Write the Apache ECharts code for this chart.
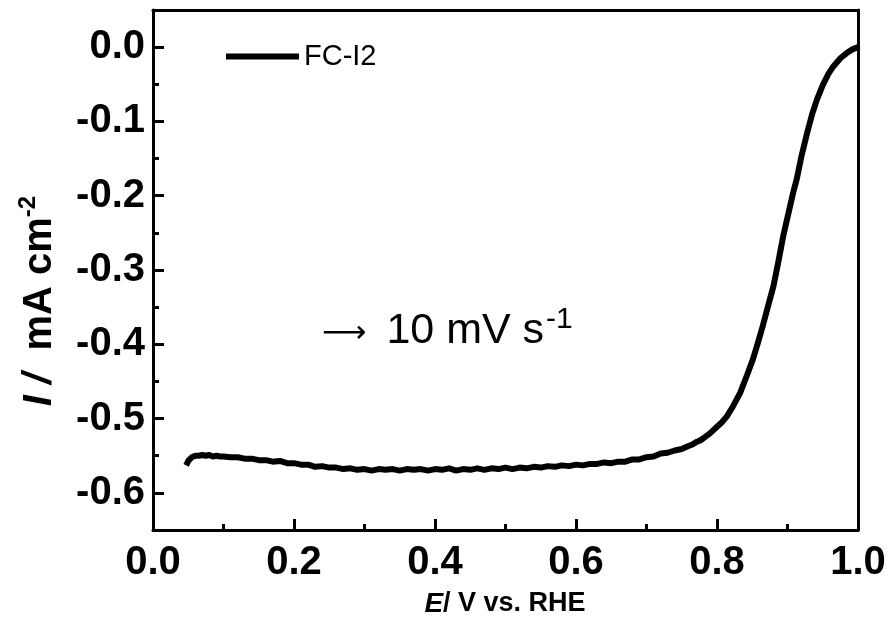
<!DOCTYPE html>
<html>
<head>
<meta charset="utf-8">
<script src="https://cdn.jsdelivr.net/npm/echarts@6/dist/echarts.min.js"></script>
<style>html,body{margin:0;padding:0;background:#fff}#c{width:891px;height:617px}</style>
</head>
<body>
<div id="c"></div>
<script>
// Potential E (V vs. RHE)
var potential = [
  0.047, 0.050, 0.055, 0.060, 0.065, 0.070, 0.075, 0.080, 0.085, 0.090, 0.095, 0.100,
  0.110, 0.120, 0.130, 0.140, 0.150, 0.160, 0.170, 0.180, 0.190, 0.200,
  0.210, 0.220, 0.230, 0.240, 0.250, 0.260, 0.270, 0.280, 0.290, 0.300,
  0.310, 0.320, 0.330, 0.340, 0.350, 0.360, 0.370, 0.380, 0.390, 0.400,
  0.410, 0.420, 0.430, 0.440, 0.450, 0.460, 0.470, 0.480, 0.490, 0.500,
  0.510, 0.520, 0.530, 0.540, 0.550, 0.560, 0.570, 0.580, 0.590, 0.600,
  0.610, 0.620, 0.630, 0.640, 0.650, 0.660, 0.670, 0.680, 0.690, 0.700,
  0.710, 0.720, 0.730, 0.740, 0.750, 0.757, 0.765, 0.770, 0.775, 0.780,
  0.790, 0.800, 0.807, 0.814, 0.823, 0.833, 0.842, 0.851, 0.858, 0.865,
  0.872, 0.880, 0.887, 0.894, 0.901, 0.908, 0.913, 0.920, 0.928, 0.935,
  0.942, 0.950, 0.958, 0.965, 0.975, 0.984, 0.992, 1.000
];
// Current density I (mA cm^-2), FC-I2
var currentFC_I2 = [
  -0.563, -0.557, -0.552, -0.550, -0.550, -0.549, -0.550, -0.549, -0.551, -0.550, -0.551, -0.551,
  -0.552, -0.552, -0.554, -0.554, -0.556, -0.556, -0.558, -0.557, -0.560, -0.560,
  -0.562, -0.562, -0.565, -0.564, -0.566, -0.566, -0.568, -0.567, -0.569, -0.568,
  -0.570, -0.568, -0.569, -0.568, -0.570, -0.568, -0.569, -0.568, -0.570, -0.568,
  -0.569, -0.567, -0.570, -0.568, -0.569, -0.567, -0.569, -0.567, -0.568, -0.566,
  -0.568, -0.566, -0.567, -0.565, -0.566, -0.564, -0.565, -0.563, -0.564, -0.562,
  -0.563, -0.561, -0.561, -0.559, -0.560, -0.558, -0.558, -0.555, -0.555, -0.552,
  -0.551, -0.547, -0.546, -0.543, -0.541, -0.538, -0.535, -0.532, -0.530, -0.527,
  -0.520, -0.511, -0.505, -0.497, -0.483, -0.465, -0.443, -0.420, -0.398, -0.375,
  -0.350, -0.322, -0.289, -0.254, -0.225, -0.196, -0.178, -0.146, -0.115, -0.090,
  -0.070, -0.051, -0.036, -0.026, -0.015, -0.008, -0.003, 0.000
];
var seriesName = 'FC-I2';
var xTicks = [0.0, 0.2, 0.4, 0.6, 0.8, 1.0];
var yTicks = [-0.6, -0.5, -0.4, -0.3, -0.2, -0.1, 0.0];
var yMinorTicks = [-0.55, -0.45, -0.35, -0.25, -0.15, -0.05];
var yEdgeTicks = [-0.6, -0.55, -0.5, -0.45, -0.4, -0.35, -0.3, -0.25, -0.2, -0.15, -0.1, -0.05, 0.0];

var FONT = '"Liberation Sans", Arial, Helvetica, sans-serif';
var pts = potential.map(function (e, i) { return [e, currentFC_I2[i]]; });

var chart = echarts.init(document.getElementById('c'), null, { renderer: 'canvas' });
chart.setOption({
  animation: false,
  backgroundColor: '#ffffff',
  grid: { left: 153, right: 33, top: 10, bottom: 87, containLabel: false },
  legend: {
    left: 226, top: 42, padding: 0,
    icon: 'rect', itemWidth: 73, itemHeight: 6,
    textStyle: { fontFamily: FONT, fontSize: 29, color: '#000' },
    data: [seriesName]
  },
  xAxis: [{
    type: 'value', min: 0, max: 1.0, interval: 0.2, position: 'bottom',
    axisLine: { show: true, onZero: false, lineStyle: { color: '#000', width: 3 } },
    axisTick: { show: true, inside: true, length: 11, lineStyle: { color: '#000', width: 3 } },
    minorTick: { show: true, splitNumber: 2, length: 6, lineStyle: { color: '#000', width: 3 } },
    axisLabel: { show: true, margin: 13, fontFamily: FONT, fontWeight: 'bold', fontSize: 40, color: '#000',
      customValues: xTicks, formatter: function (v) { return v.toFixed(1); } },
    splitLine: { show: false }, minorSplitLine: { show: false }
  }, {
    type: 'value', min: 0, max: 1.0, interval: 0.1, position: 'top',
    axisLine: { show: true, onZero: false, lineStyle: { color: '#000', width: 3 } },
    axisTick: { show: true, inside: true, length: 2, lineStyle: { color: '#000', width: 2 } },
    axisLabel: { show: false }, splitLine: { show: false }
  }],
  yAxis: [{
    type: 'value', min: -0.65, max: 0.05, position: 'left',
    axisLine: { show: true, onZero: false, lineStyle: { color: '#000', width: 3 } },
    axisTick: { show: true, inside: true, length: 11, customValues: yTicks, lineStyle: { color: '#000', width: 3 } },
    axisLabel: { show: true, margin: 8, fontFamily: FONT, fontWeight: 'bold', fontSize: 40, color: '#000',
      customValues: yTicks, formatter: function (v) { return v.toFixed(1); } },
    splitLine: { show: false }
  }, {
    type: 'value', min: -0.65, max: 0.05, position: 'left', offset: 0,
    axisLine: { show: false },
    axisTick: { show: true, inside: true, length: 6, customValues: yMinorTicks, lineStyle: { color: '#000', width: 3 } },
    axisLabel: { show: false }, splitLine: { show: false }
  }, {
    type: 'value', min: -0.65, max: 0.05, position: 'right',
    axisLine: { show: true, onZero: false, lineStyle: { color: '#000', width: 3 } },
    axisTick: { show: true, inside: false, length: 2, customValues: yEdgeTicks, lineStyle: { color: '#000', width: 2 } },
    axisLabel: { show: false }, splitLine: { show: false }
  }],
  series: [{
    name: seriesName, type: 'line', xAxisIndex: 0, yAxisIndex: 0,
    data: pts, showSymbol: false, symbol: 'none', smooth: false,
    color: '#000',
    lineStyle: { color: '#000', width: 6, join: 'round' }
  }],
  graphic: [
    {
      type: 'text', left: 322, top: 305,
      style: {
        text: '{r|⟶}{a| 10 mV s}{s|-1}',
        rich: {
          r: { fontFamily: '"DejaVu Sans", sans-serif', fontSize: 31, color: '#000', lineHeight: 48, verticalAlign: 'bottom', padding: [0, 8, 4, 0] },
          a: { fontFamily: FONT, fontSize: 43, color: '#000', lineHeight: 48, verticalAlign: 'bottom' },
          s: { fontFamily: FONT, fontSize: 30, color: '#000', lineHeight: 48, verticalAlign: 'top', padding: [0, 0, 0, 2] }
        }
      }
    },
    {
      type: 'text', x: 505, y: 604,
      style: {
        text: '{e|E}{t|/ V vs. RHE}',
        align: 'center', verticalAlign: 'middle',
        rich: {
          e: { fontFamily: FONT, fontSize: 28, fontWeight: 'bold', fontStyle: 'italic', color: '#000' },
          t: { fontFamily: FONT, fontSize: 27, fontWeight: 'bold', color: '#000' }
        }
      }
    },
    {
      type: 'text', x: 38, y: 301, rotation: Math.PI / 2,
      style: {
        text: '{i|I / }{t| mA cm}{s|-2}',
        align: 'center', verticalAlign: 'middle',
        rich: {
          i: { fontFamily: FONT, fontSize: 40, fontWeight: 'bold', fontStyle: 'italic', color: '#000', lineHeight: 44, verticalAlign: 'bottom' },
          t: { fontFamily: FONT, fontSize: 40, fontWeight: 'bold', color: '#000', lineHeight: 44, verticalAlign: 'bottom' },
          s: { fontFamily: FONT, fontSize: 24, fontWeight: 'bold', color: '#000', lineHeight: 44, verticalAlign: 'top' }
        }
      }
    }
  ]
});
</script>
</body>
</html>
